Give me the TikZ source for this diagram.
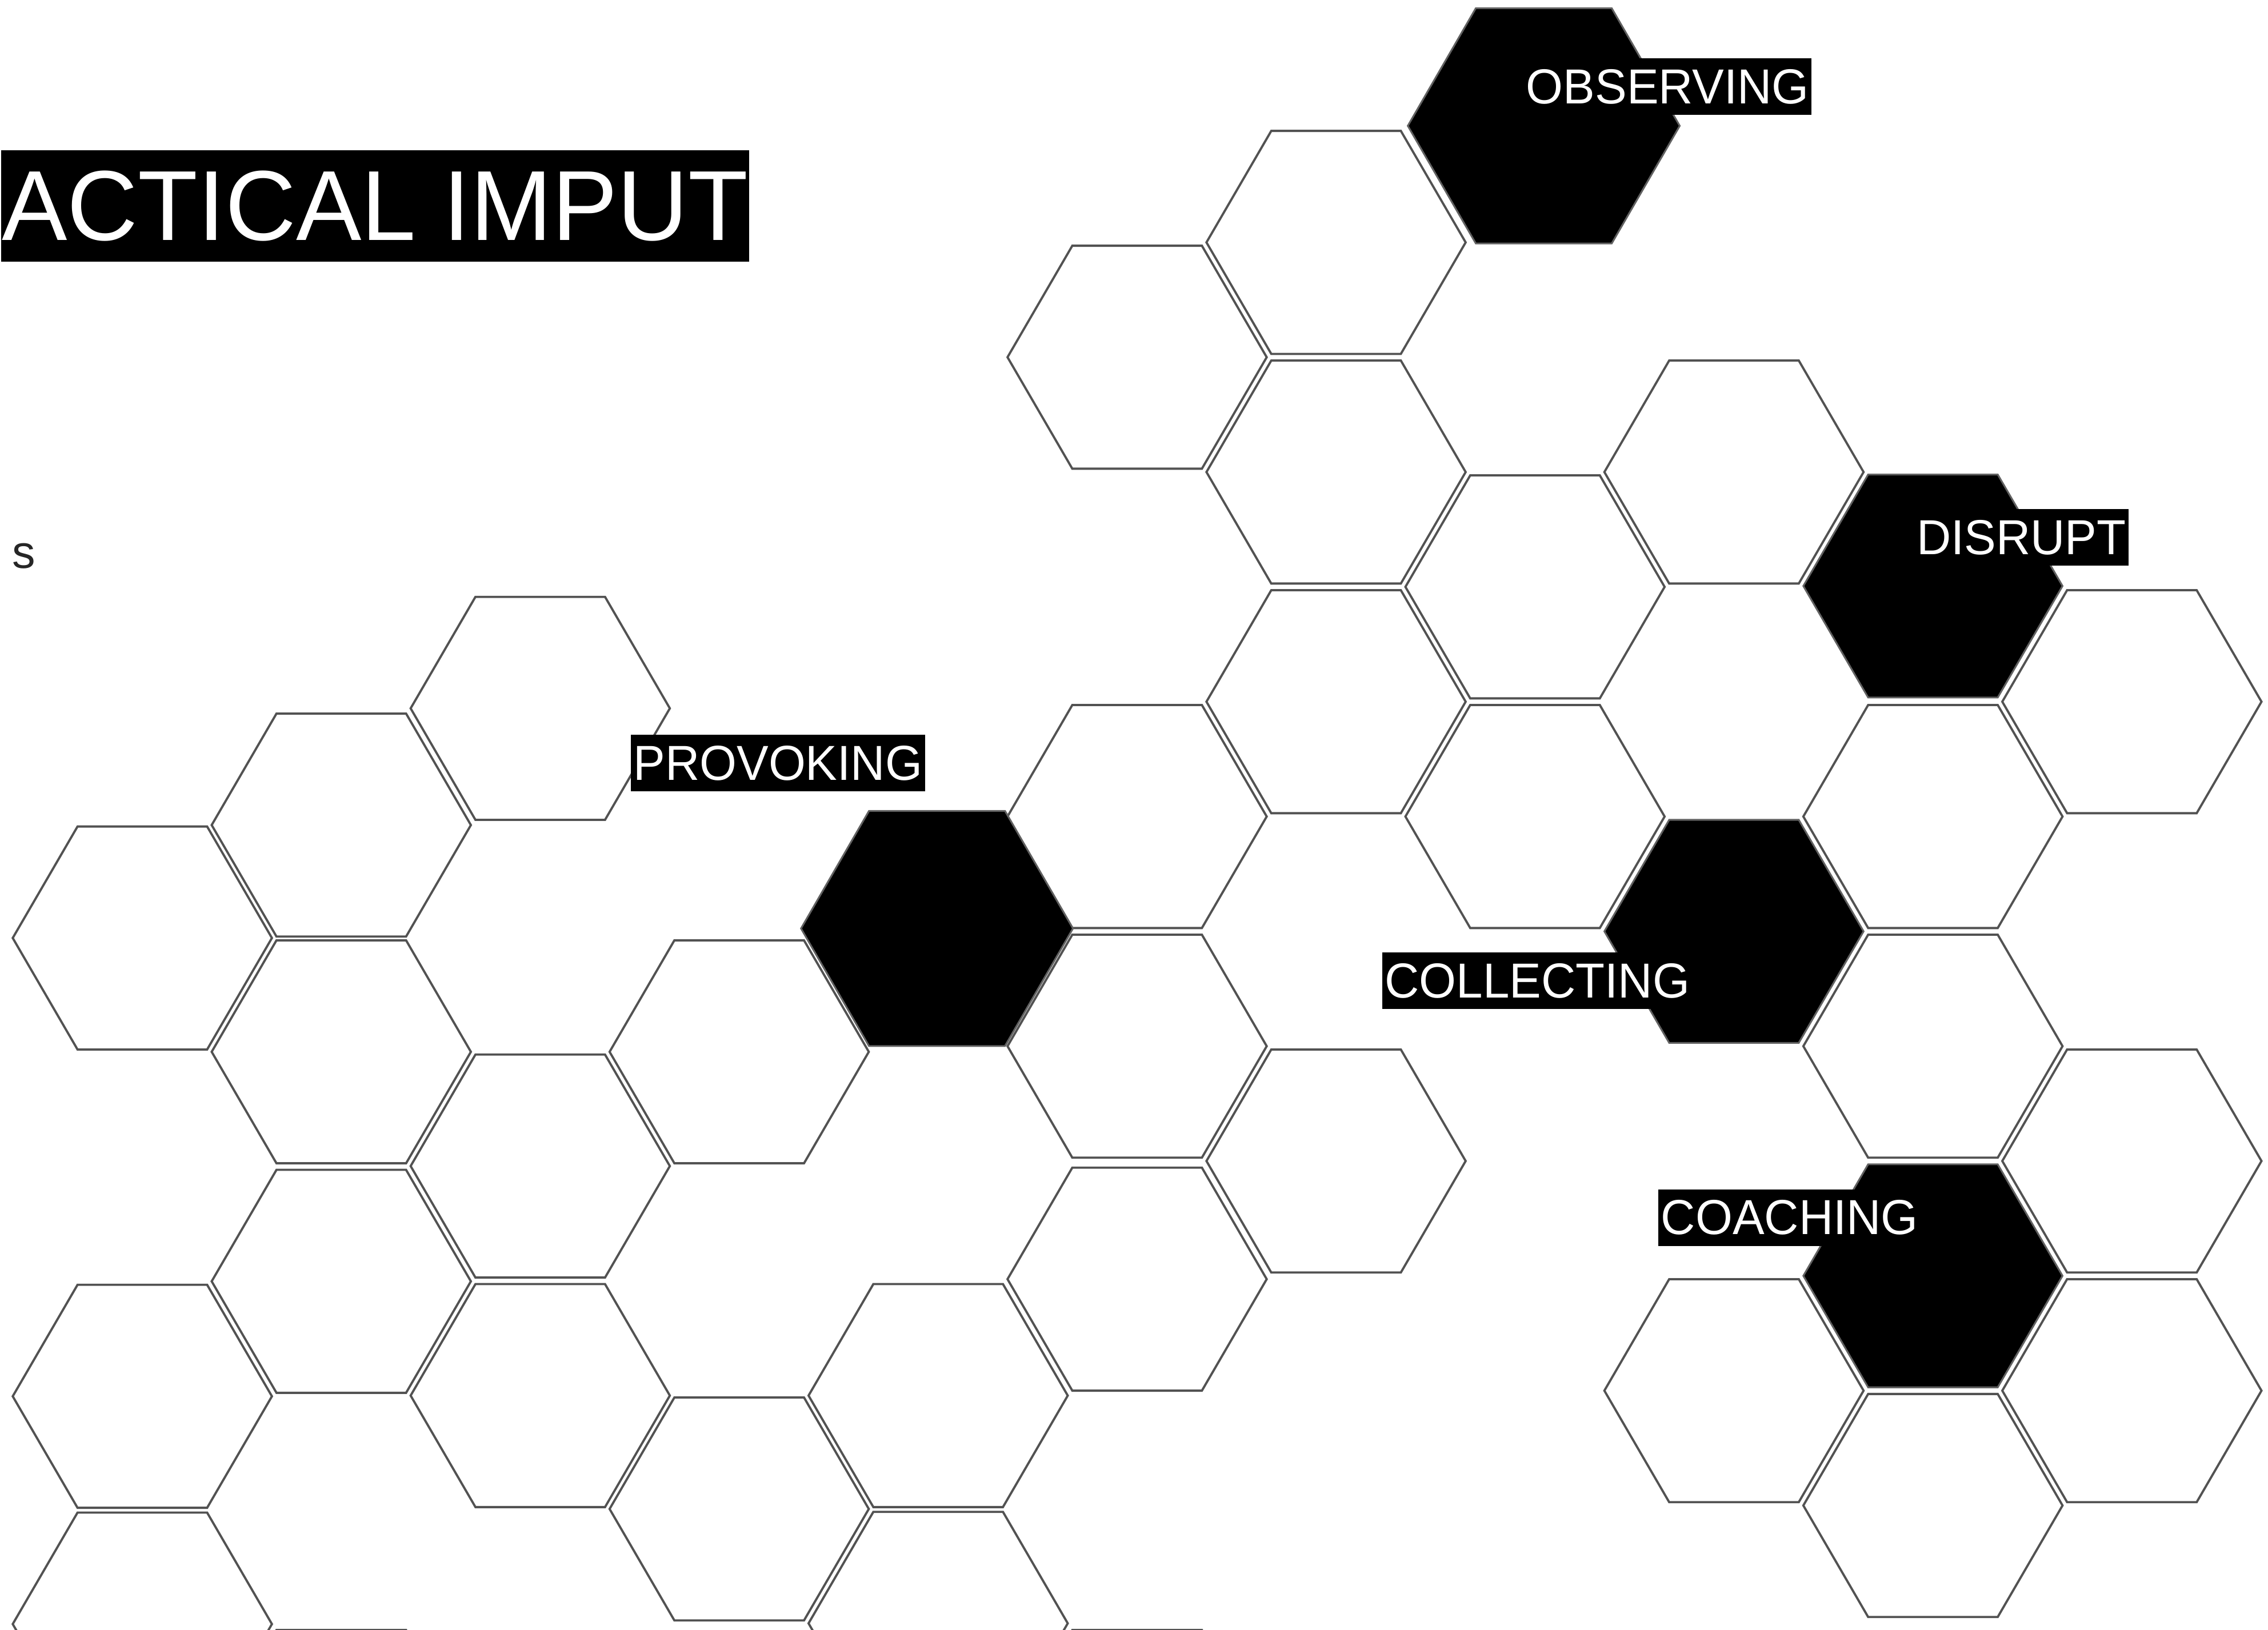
\documentclass[tikz,border=0pt]{standalone}
\usepackage{fontspec}
\usepackage{graphicx}
\newfontfamily\labfont[FakeStretch=0.97]{Liberation Sans}
\newfontfamily\ttlfont[FakeStretch=0.985]{Liberation Sans}
\newfontfamily\plainsans{Liberation Sans}
\tikzset{
  hexline/.style={draw=black!68, line width=0.38pt, line join=miter},
  hexblack/.style={fill=black, draw=black!62, line width=0.3pt},
  lab/.style={font=\labfont\fontsize{8.5pt}{8.5pt}\selectfont, fill=black, text=white,
    inner xsep=0.45pt, inner ysep=0pt, minimum height=9.75pt, anchor=west},
  ttl/.style={font=\ttlfont\fontsize{17.2pt}{17.2pt}\selectfont, fill=black, text=white,
    inner xsep=0.15pt, inner ysep=0pt, minimum height=19.25pt, anchor=west}
}
\newcommand\myhexg[2]{\draw[hexline,shift={(#1,#2)}] (-89.6,0) -- (-44.8,-77.1) -- (44.8,-77.1) -- (89.6,0) -- (44.8,77.1) -- (-44.8,77.1) -- cycle;}
\newcommand\myhexb[2]{\filldraw[hexblack,shift={(#1,#2)}] (-89.6,0) -- (-44.8,-77.1) -- (44.8,-77.1) -- (89.6,0) -- (44.8,77.1) -- (-44.8,77.1) -- cycle;}
\newcommand\myhexbig[2]{\filldraw[hexblack,shift={(#1,#2)}] (-94,0) -- (-47,-81.3) -- (47,-81.3) -- (94,0) -- (47,81.3) -- (-47,81.3) -- cycle;}
\begin{document}
\begin{tikzpicture}[x=0.25pt,y=-0.25pt]
\useasboundingbox (0,0) rectangle (1568,1127);
\clip (0,0) rectangle (1568,1127);
\fill[white] (0,0) rectangle (1568,1127);
% gray outlined hexagons
\foreach \hx/\hy in {786.15/247, 923.7/167.6, 923.7/326.4, 1061.25/405.8, 1198.8/326.4,
  1473.9/485.2, 923.7/485.2, 1061.25/564.6, 1336.35/564.6, 786.15/564.6, 786.15/723.4,
  923.7/802.8, 1336.35/723.4, 1473.9/802.8, 1198.8/961.6, 1473.9/961.6, 1336.35/1041,
  786.15/884.5, 648.6/965, 648.6/1122.5,
  373.5/489.8, 235.95/570.5, 98.4/648.6, 235.95/727.3, 511.05/727.3, 373.5/806.3,
  235.95/886, 98.4/965.5, 373.5/965, 511.05/1043.4, 98.4/1123, 235.95/1204.2, 786.15/1204.2}
  {\myhexg{\hx}{\hy}}
% black hexagons
\myhexb{1336.35}{405.2}
\myhexb{1198.8}{644}
\myhexb{1336.35}{882.2}
\myhexbig{1067.3}{87}
\myhexbig{647.8}{642}
% labels
\node[ttl] (title) at (0,142.3) {ACTICAL IMPUT};
\node[lab] (observing) at (1052.5,59.8) {OBSERVING};
\node[lab] (disrupt) at (1322.5,371.6) {DISRUPT};
\node[lab] (provoking) at (435.3,527.6) {PROVOKING};
\node[lab] (collecting) at (954.9,678.2) {COLLECTING};
\node[lab] (coaching) at (1145.8,842) {COACHING};
\node[font=\plainsans\fontsize{8pt}{8pt}\selectfont, text=black!85, inner sep=0pt] (s) at (16.3,384.5) {s};
\end{tikzpicture}
\end{document}
